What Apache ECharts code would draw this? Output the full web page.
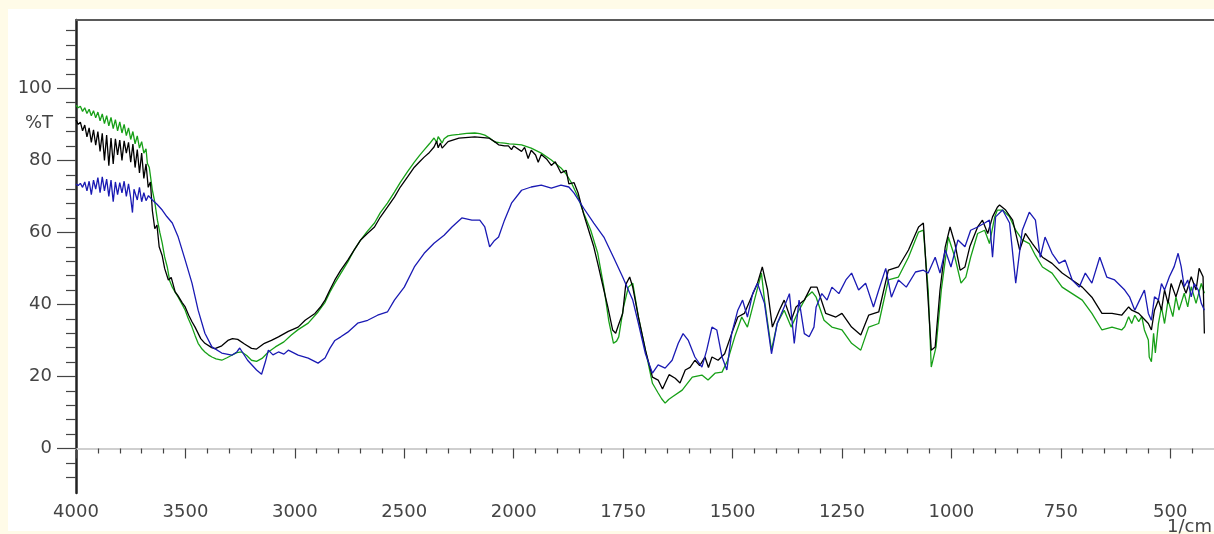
<!DOCTYPE html>
<html>
<head>
<meta charset="utf-8">
<title>IR spectrum</title>
<script src="https://cdn.jsdelivr.net/npm/echarts@6/dist/echarts.min.js"></script>
<style>
  html, body { margin: 0; padding: 0; background: #fffbe8; }
  #chart { width: 1214px; height: 534px; }
</style>
</head>
<body>
<div id="chart"></div>
<script>
// wavenumber (1/cm) and %T, one pair of arrays per trace
var greenWn = [4000,3990,3980,3970,3960,3950,3940,3930,3920,3910,3900,3890,3880,3870,3860,3850,3840,3830,3820,3810,3800,3790,3780,3770,3760,3750,3740,3730,3720,3710,3700,3690,3680,3674,3665,3651,3640,3628,3617,3606,3595,3583,3572,3560,3547,3533,3515,3501,3488,3470,3456,3442,3424,3411,3395,3379,3360,3334,3310,3288,3265,3243,3220,3198,3175,3150,3121,3089,3050,3016,2985,2939,2894,2862,2840,2817,2790,2758,2730,2699,2670,2636,2610,2577,2545,2518,2485,2454,2430,2409,2385,2364,2352,2345,2335,2327,2318,2300,2282,2250,2215,2178,2155,2132,2110,2087,2065,2042,2020,2000,1982,1960,1937,1914,1892,1880,1869,1853,1840,1824,1808,1794,1783,1772,1765,1760,1749,1738,1728,1715,1699,1683,1670,1662,1654,1646,1638,1615,1592,1570,1556,1540,1524,1511,1495,1479,1466,1450,1434,1427,1411,1398,1382,1366,1352,1332,1318,1309,1291,1273,1250,1228,1207,1189,1166,1144,1121,1098,1075,1064,1053,1046,1035,1023,1007,992,978,967,956,940,924,913,901,895,883,867,853,838,822,808,792,770,747,724,701,679,656,633,611,604,595,588,581,572,565,559,550,548,543,538,534,527,520,513,505,494,487,480,468,460,452,441,429,422];
var greenT = [95.3,94.6,95.0,93.6,94.6,93.0,94.2,92.4,93.8,91.8,93.4,91.0,92.9,90.2,92.4,89.6,91.9,88.8,91.3,88.2,90.7,87.6,90.0,86.9,89.0,85.8,88.0,84.6,86.8,83.4,85.2,82.0,83.2,79.2,78.0,71.7,68.4,63.4,60.0,57.0,53.2,50.4,46.6,44.8,43.4,42.0,40.0,38.4,36.2,33.7,31.4,29.2,27.6,26.8,26.0,25.4,24.9,24.5,25.2,25.9,26.6,26.8,25.8,24.5,24.2,25.0,26.8,28.2,29.6,31.5,33.0,34.8,37.9,40.6,43.4,45.9,48.6,51.8,55.0,57.9,60.2,62.6,65.4,68.1,71.2,73.9,76.9,79.5,81.4,82.9,84.6,86.2,85.0,86.6,85.6,84.8,86.0,86.8,87.0,87.2,87.5,87.6,87.4,87.0,86.2,85.1,84.9,84.8,84.6,84.5,84.3,83.4,82.0,80.1,77.9,76.2,74.0,69.8,65.3,60.6,54.2,44.8,35.6,29.2,29.8,31.0,39.3,44.8,45.9,36.5,27.3,18.1,15.4,13.8,12.6,13.6,14.3,16.2,19.8,20.4,19.0,20.9,21.2,24.5,31.0,36.5,33.7,41.2,48.7,41.2,27.3,34.7,38.4,33.7,37.5,42.0,43.5,42.0,35.6,33.7,32.9,29.2,27.3,33.7,34.7,46.8,47.6,53.1,60.1,60.6,44.0,22.6,28.2,44.0,58.7,53.1,45.9,47.6,53.1,59.7,60.6,56.9,64.3,66.2,66.2,64.3,60.6,57.9,56.9,53.6,50.4,48.7,44.8,43.0,41.2,37.5,32.9,33.7,32.9,33.8,36.6,34.7,37.0,35.2,36.6,32.9,30.1,25.4,24.1,32.0,26.5,34.7,39.3,34.7,41.2,36.6,42.1,38.4,43.1,39.3,44.9,40.3,45.8,43.1];

var blackWn = [4000,3990,3980,3970,3960,3950,3940,3930,3920,3910,3900,3890,3880,3870,3860,3850,3840,3830,3820,3810,3800,3790,3780,3770,3760,3750,3740,3730,3720,3710,3700,3690,3680,3670,3660,3651,3640,3630,3620,3606,3595,3578,3565,3547,3535,3515,3501,3485,3470,3456,3430,3411,3380,3365,3334,3306,3285,3261,3230,3198,3175,3139,3107,3075,3030,2985,2953,2908,2880,2862,2840,2817,2790,2758,2730,2699,2670,2636,2610,2577,2545,2518,2485,2454,2430,2409,2385,2364,2352,2345,2335,2327,2300,2250,2178,2114,2087,2069,2042,2024,2010,2000,1982,1975,1967,1960,1950,1944,1937,1925,1914,1905,1892,1880,1874,1862,1853,1840,1831,1817,1808,1794,1785,1774,1767,1760,1751,1744,1735,1728,1715,1699,1683,1670,1660,1654,1645,1631,1620,1608,1597,1586,1575,1563,1555,1547,1533,1518,1502,1488,1473,1457,1443,1432,1420,1409,1393,1382,1366,1355,1336,1321,1307,1287,1264,1250,1228,1207,1189,1166,1144,1121,1098,1075,1064,1057,1046,1037,1026,1014,1003,992,980,969,958,940,929,917,906,895,890,876,860,844,831,815,792,770,747,724,701,679,656,633,611,595,588,572,561,550,543,536,527,520,513,505,498,487,475,464,452,441,434,425,422];
var blackT = [91.2,90.0,90.6,88.2,89.8,86.5,89.0,85.0,88.5,84.2,88.0,82.5,87.5,80.0,87.0,78.5,86.2,79.0,86.0,81.5,85.6,80.0,85.4,82.0,85.0,79.5,84.5,78.0,83.0,76.5,82.0,75.0,79.0,72.5,74.0,66.0,61.0,62.0,56.0,53.5,50.0,46.8,47.5,43.5,42.5,40.5,39.3,37.0,35.2,33.7,30.5,29.2,28.0,27.7,28.5,30.0,30.5,30.3,29.0,27.8,27.6,29.2,30.0,31.0,32.5,33.7,35.6,37.5,39.5,41.2,44.0,46.8,49.5,52.3,55.0,57.9,59.6,61.5,64.2,67.0,69.8,72.6,75.4,78.1,79.6,80.9,82.2,83.7,85.3,83.5,84.8,83.4,85.2,86.2,86.5,86.2,85.2,84.3,84.0,84.0,83.0,84.0,82.5,83.6,80.5,82.8,81.5,79.5,81.6,80.4,78.6,79.6,76.5,77.2,73.5,73.8,71.0,65.0,61.5,56.0,51.4,44.0,39.3,32.9,32.0,34.5,37.5,45.5,47.6,44.8,36.5,27.3,19.8,19.0,16.5,18.1,20.5,19.5,18.2,21.8,22.5,24.5,23.0,25.4,22.5,25.4,24.5,26.3,31.9,36.5,37.5,42.0,45.9,50.4,44.0,33.7,38.4,41.2,35.6,39.3,41.2,44.8,44.8,37.5,36.5,37.5,33.7,31.5,37.0,37.9,49.5,50.4,55.1,61.5,62.6,48.7,27.3,28.2,44.0,56.0,61.5,56.9,49.5,50.4,56.0,61.5,63.4,59.7,64.3,67.0,67.6,66.2,63.4,55.1,59.7,56.9,53.1,51.4,48.7,46.8,44.8,42.0,37.5,37.5,37.0,39.3,38.4,37.5,36.1,34.7,32.9,38.4,41.2,38.4,44.0,40.3,45.8,42.1,46.8,43.1,47.7,44.0,50.0,47.7,31.9];

var blueWn = [4000,3990,3980,3970,3960,3950,3940,3930,3920,3910,3900,3890,3880,3870,3860,3850,3840,3830,3820,3810,3800,3790,3780,3770,3760,3750,3742,3735,3720,3710,3700,3690,3680,3669,3651,3630,3606,3585,3560,3533,3501,3470,3442,3411,3379,3334,3288,3265,3252,3216,3175,3152,3135,3121,3100,3075,3050,3030,2985,2939,2894,2862,2840,2817,2790,2758,2713,2667,2622,2577,2545,2500,2454,2409,2364,2318,2282,2237,2191,2155,2132,2114,2110,2090,2069,2042,2010,1982,1960,1937,1914,1892,1874,1862,1840,1817,1794,1772,1751,1738,1728,1715,1699,1683,1670,1654,1638,1624,1613,1601,1586,1570,1559,1547,1536,1524,1513,1502,1488,1477,1466,1454,1443,1427,1411,1398,1382,1370,1359,1348,1336,1325,1314,1309,1296,1284,1273,1257,1241,1228,1212,1196,1178,1166,1150,1137,1121,1103,1082,1064,1053,1037,1026,1014,1001,985,969,956,940,924,913,906,899,883,867,853,838,822,808,797,786,770,754,740,724,708,694,679,661,645,627,604,593,581,570,559,550,543,536,527,520,513,502,491,482,475,468,460,452,445,436,429,422];
var blueT = [73.4,73.0,73.6,72.5,74.0,71.5,74.2,70.5,74.5,72.0,75.2,71.0,75.4,71.5,74.8,70.0,74.5,68.5,74.0,70.5,73.8,71.0,74.2,70.0,73.5,69.5,65.5,72.0,69.0,72.5,68.5,71.0,68.8,70.2,69.0,67.8,66.2,64.4,62.6,58.7,52.3,45.9,38.4,32.0,28.2,26.5,25.9,26.8,27.9,24.5,21.8,20.6,24.0,27.3,26.0,26.8,26.2,27.3,25.9,25.1,23.7,25.1,27.8,30.0,31.0,32.3,34.8,35.6,37.0,37.9,41.2,44.8,50.4,54.2,57.0,59.2,61.5,64.0,63.4,63.4,61.5,57.0,56.0,57.6,58.7,63.4,68.1,71.7,72.6,73.1,72.3,73.1,72.6,70.9,66.7,62.6,58.7,53.1,47.6,44.0,41.2,34.7,26.3,20.9,23.2,22.3,24.5,29.2,31.9,30.0,25.4,22.6,27.3,33.7,32.9,25.4,21.8,31.9,38.4,41.2,36.5,43.0,45.9,40.3,26.3,34.7,39.3,43.0,29.2,41.2,31.9,31.0,33.7,39.3,43.0,41.2,44.8,43.0,46.8,48.7,44.0,45.9,39.3,44.0,50.0,42.0,46.8,44.8,49.0,49.5,48.7,53.1,48.7,55.1,50.4,57.9,56.0,60.6,61.5,62.6,63.4,53.1,64.3,66.2,62.6,45.9,60.6,65.6,63.4,53.1,58.7,54.2,51.4,52.3,46.8,44.8,48.7,45.9,53.1,47.6,46.8,44.0,42.1,38.4,41.2,44.0,37.5,35.6,42.1,41.2,45.8,44.0,47.7,50.5,54.2,50.5,44.9,46.8,42.1,45.8,44.0,40.3,38.4];

// axis tick labels (1/cm); the scale below 2000 is stretched two times
var xMajorLabels = [4000,3500,3000,2500,2000,1750,1500,1250,1000,750,500];
var yMajorLabels = [0,20,40,60,80,100];

var TEXT_COLOR = "#444444";
var FONT = "DejaVu Sans, Verdana, sans-serif";
var FONT_SIZE = 18;

/**
 * 파수를 축 좌표로 바꿉니다 (2000 이하는 두 배 간격).
 */
function toAxis(wn) {
	return wn >= 2000 ? 4000 - wn : 2000 + (2000 - wn) * 2;
}

function fromAxis(u) {
	return u <= 2000 ? 4000 - u : 2000 - (u - 2000) / 2;
}

function pairs(wn, t) {
	return wn.map(function(w, i) { return [toAxis(w), t[i]]; });
}

var xMajor = xMajorLabels.map(toAxis);
var xMinor = [];
for (var u = 100; u <= 5100; u += 100) {
	if (u % 500 !== 0) xMinor.push(u);
}
var yMinor = [];
for (var v = -8; v <= 116; v += 4) {
	if (v % 20 !== 0) yMinor.push(v);
}

var X_MIN = 0, X_MAX = 5200;
var Y_MIN = -12.36, Y_MAX = 118.97;

var voChart = echarts.init(document.getElementById("chart"));

var voOption = {
	animation: false,
	backgroundColor: "#fffbe8",
	grid: { left: 76, right: -9, top: 20, bottom: 41 },
	graphic: [
		{ type: "rect", z: -100, silent: true, shape: { x: 8, y: 9, width: 1230, height: 522 }, style: { fill: "#ffffff" } },
		{ type: "text", x: 53, y: 123, style: { text: "%T", font: FONT_SIZE + "px " + FONT, fill: TEXT_COLOR, align: "right", verticalAlign: "middle" } },
		{ type: "text", x: 1167, y: 518, style: { text: "1/cm", font: FONT_SIZE + "px " + FONT, fill: TEXT_COLOR, align: "left", verticalAlign: "top" } }
	],
	xAxis: [
		{
			type: "value", min: X_MIN, max: X_MAX, position: "bottom",
			axisLine: { show: true, lineStyle: { color: "#cfcfcf", width: 2 } },
			axisTick: { show: true, customValues: xMajor, length: 10, lineStyle: { color: "#444", width: 1.2 } },
			axisLabel: {
				customValues: xMajor, margin: 10, fontSize: FONT_SIZE, fontFamily: FONT, color: TEXT_COLOR,
				formatter: function(val) { return String(Math.round(fromAxis(val))); }
			},
			splitLine: { show: false }
		},
		{
			type: "value", min: X_MIN, max: X_MAX, position: "bottom", offset: 0,
			axisLine: { show: false },
			axisTick: { show: true, customValues: xMinor, length: 5, lineStyle: { color: "#444", width: 1.2 } },
			axisLabel: { show: false },
			splitLine: { show: false }
		},
		{
			type: "value", min: X_MIN, max: X_MAX, position: "top",
			axisLine: { show: true, lineStyle: { color: "#5a5a5a", width: 2 } },
			axisTick: { show: false }, axisLabel: { show: false }, splitLine: { show: false }
		}
	],
	yAxis: [
		{
			type: "value", min: Y_MIN, max: Y_MAX, position: "left",
			axisLine: { show: true, lineStyle: { color: "#222", width: 2.5 } },
			axisTick: { show: true, customValues: yMajorLabels, length: 19, lineStyle: { color: "#444", width: 1.2 } },
			axisLabel: { customValues: yMajorLabels, margin: 24, fontSize: FONT_SIZE, fontFamily: FONT, color: TEXT_COLOR },
			splitLine: { show: false }
		},
		{
			type: "value", min: Y_MIN, max: Y_MAX, position: "left", offset: 0,
			axisLine: { show: false },
			axisTick: { show: true, customValues: yMinor, length: 10, lineStyle: { color: "#444", width: 1.2 } },
			axisLabel: { show: false },
			splitLine: { show: false }
		}
	],
	series: [
		{
			name: "green", type: "line", showSymbol: false, clip: true,
			lineStyle: { color: "#17a017", width: 1.3 }, itemStyle: { color: "#17a017" },
			data: pairs(greenWn, greenT)
		},
		{
			name: "black", type: "line", showSymbol: false, clip: true,
			lineStyle: { color: "#000000", width: 1.3 }, itemStyle: { color: "#000000" },
			data: pairs(blackWn, blackT)
		},
		{
			name: "blue", type: "line", showSymbol: false, clip: true,
			lineStyle: { color: "#1a1ab4", width: 1.3 }, itemStyle: { color: "#1a1ab4" },
			data: pairs(blueWn, blueT)
		}
	]
};

voChart.setOption(voOption);
</script>
</body>
</html>
